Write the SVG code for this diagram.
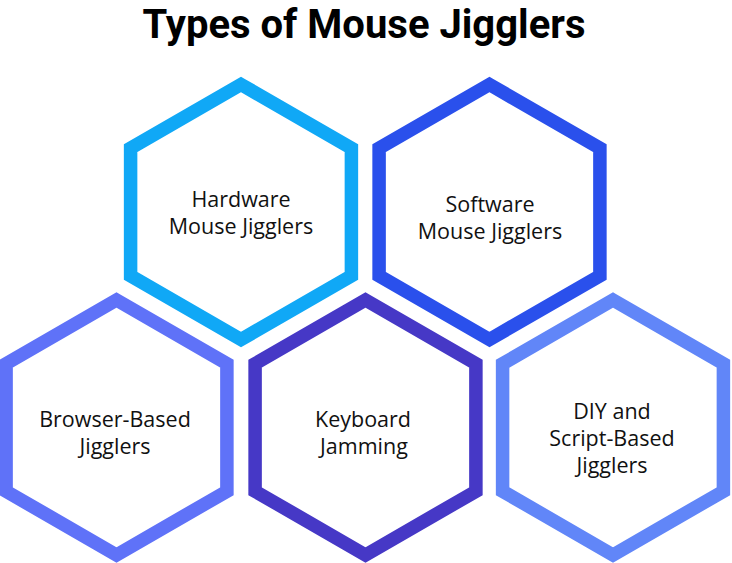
<svg xmlns="http://www.w3.org/2000/svg" width="732" height="563" viewBox="0 0 732 563">
<defs>
<style>
.hex{fill:#ffffff;stroke-width:13.5;stroke-linejoin:miter}
.lbl{font-family:"Open Sans","Noto Sans","DejaVu Sans",sans-serif;font-size:21.5px;font-weight:500;fill:#111111;text-anchor:middle}
.title{font-family:Roboto,"Open Sans","Noto Sans",sans-serif;font-size:40px;font-weight:bold;fill:#000000;text-anchor:middle}
</style>
<path id="hexshape" d="M0,-127.5 L110.4,-63.75 L110.4,63.75 L0,127.5 L-110.4,63.75 L-110.4,-63.75 Z"/>
</defs>
<rect width="732" height="563" fill="#ffffff"/>
<text class="title" x="364" y="37.5">Types of Mouse Jigglers</text>
<g id="connectors"></g>
<g id="node-hardware">
<use href="#hexshape" class="hex" stroke="#10A8F6" transform="translate(241,212)"/>
<text class="lbl" x="241" y="206.5">Hardware<tspan x="241" dy="27">Mouse Jigglers</tspan></text>
</g>
<g id="node-software">
<use href="#hexshape" class="hex" stroke="#2A50EC" transform="translate(489.5,212)"/>
<text class="lbl" x="490" y="212">Software<tspan x="490" dy="27">Mouse Jigglers</tspan></text>
</g>
<g id="node-browser">
<use href="#hexshape" class="hex" stroke="#5F72F8" transform="translate(116.5,427.5)"/>
<text class="lbl" x="115" y="426.5">Browser-Based<tspan x="115" dy="27">Jigglers</tspan></text>
</g>
<g id="node-keyboard">
<use href="#hexshape" class="hex" stroke="#4638C6" transform="translate(365.5,427.5)"/>
<text class="lbl" x="363" y="426.5">Keyboard<tspan x="364" dy="27">Jamming</tspan></text>
</g>
<g id="node-diy">
<use href="#hexshape" class="hex" stroke="#6186F8" transform="translate(613,427.5)"/>
<text class="lbl" x="612" y="419">DIY and<tspan x="612" dy="27">Script-Based</tspan><tspan x="612" dy="27">Jigglers</tspan></text>
</g>
</svg>
